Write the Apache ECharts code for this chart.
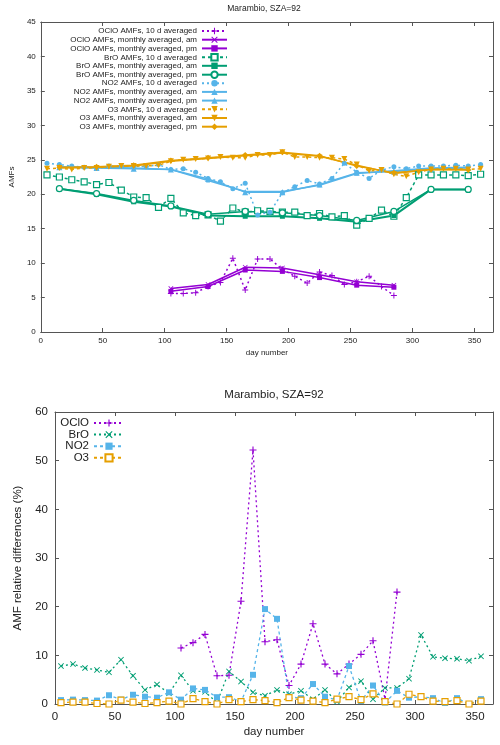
<!DOCTYPE html>
<html><head><meta charset="utf-8">
<script src="https://cdn.jsdelivr.net/npm/echarts@6/dist/echarts.min.js"></script>
<style>html,body{margin:0;padding:0;background:#fff}#c{width:500px;height:745px}</style>
</head><body><div id="c"></div>
<script>
// ---------- DATA ----------
const days10 = [5,15,25,35,45,55,65,75,85,95,105,115,125,135,145,155,165,175,185,195,205,215,225,235,245,255,265,275,285,295,305,315,325,335,345,355];
const daysMon = [15,45,75,105,135,165,195,225,255,285,315,345];
const daysOClO10 = [105,115,125,135,145,155,165,175,185,195,205,215,225,235,245,255,265,275,285];
const daysOClOMon = [105,135,165,195,225,255,285];

// top panel: AMFs
const oclo10 = [5.6,5.6,5.7,6.6,7.2,10.7,6.1,10.6,10.6,9.1,8.1,7.1,8.7,8.2,6.9,7.3,8.1,6.6,5.3];
const ocloAm = [6.3,6.9,9.4,9.3,8.3,7.3,6.8];
const ocloPm = [5.9,6.6,9.0,8.8,7.9,6.8,6.5];
const bro10 = [22.8,22.5,22.1,21.8,21.4,21.7,20.6,19.6,19.5,18.1,19.4,17.3,16.9,17.0,16.1,18.0,17.4,17.6,17.5,17.4,17.4,16.9,17.2,16.7,16.9,15.5,16.5,17.7,16.8,19.5,22.8,22.8,22.8,22.8,22.7,22.9];
const broAm = [20.8,20.0,18.9,18.2,16.9,16.8,16.8,16.5,16.0,16.9,20.7,20.7];
const broPm = [20.8,20.1,19.1,18.3,17.1,17.5,17.3,16.9,16.2,17.5,20.7,20.7];
const no210 = [24.5,24.3,24.1,23.9,23.8,24.1,24.1,24.1,24.0,24.3,23.6,23.7,23.2,22.3,21.8,20.8,21.6,17.0,17.4,20.2,21.1,22.0,21.5,22.3,24.5,23.2,22.3,23.5,24.0,23.7,24.1,24.1,24.1,24.2,24.1,24.3];
const no2Am = [23.9,23.8,23.7,23.6,22.2,20.3,20.3,21.4,23.1,23.3,23.7,23.8];
const no2Pm = [24.0,23.9,23.8,23.6,22.0,20.4,20.4,21.3,23.0,23.4,23.8,23.9];
const o310 = [23.7,23.8,23.6,23.8,23.8,24.0,24.1,24.1,24.1,24.2,24.8,25.0,25.1,25.2,25.4,25.3,25.3,25.7,25.7,26.1,25.4,25.4,25.3,25.3,25.1,24.3,23.4,23.5,22.9,22.6,23.2,23.6,23.7,23.7,23.6,23.7];
const o3Am = [23.8,23.9,24.1,24.8,25.2,25.6,26.0,25.5,24.2,23.0,23.6,23.6];
const o3Pm = [23.9,24.0,24.2,24.9,25.3,25.7,26.1,25.6,24.1,23.1,23.6,23.5];

// bottom panel: relative differences (%)
const relOClO = [null,null,null,null,null,null,null,null,null,null,11.5,12.6,14.3,5.8,5.9,21.1,52.2,12.8,13.2,3.8,8.2,16.5,8.2,6.2,8.2,10.2,13.0,1.0,23.0,null,null,null,null,null,null,null];
const relBrO = [7.8,8.2,7.4,7.0,6.5,9.1,5.8,2.9,4.0,2.2,5.9,2.7,2.5,0.3,6.7,4.6,2.4,1.7,2.9,2.0,2.7,1.0,2.9,0.5,3.4,4.7,1.0,3.3,3.3,5.2,14.2,9.7,9.4,9.3,8.9,9.8];
const relNO2 = [0.8,0.9,0.8,0.7,1.8,0.9,1.9,1.5,1.3,2.4,0.9,3.2,2.9,1.4,1.4,0.5,6.0,19.5,17.5,1.5,1.2,4.1,1.5,0.8,7.8,0.6,3.8,0.3,2.7,1.3,1.5,1.2,0.2,1.2,0.0,1.0];
const relO3 = [0.3,0.4,0.4,0.1,0.0,0.8,0.4,0.1,0.3,0.6,0.0,1.1,0.5,0.0,0.9,0.5,0.9,0.7,0.3,1.3,0.8,0.6,0.3,1.0,1.5,0.9,2.1,0.5,0.0,2.0,1.5,0.6,0.5,0.7,0.0,0.6];

const xTicks = [0,50,100,150,200,250,300,350];

// ---------- STYLE ----------
const FONT = 'Liberation Sans, Arial, sans-serif';
const C_OCLO = '#9400D3', C_BRO = '#009E73', C_NO2 = '#56B4E9', C_O3 = '#E69F00';
const PLUS = 'path://M4.2,0H5.8V4.2H10V5.8H5.8V10H4.2V5.8H0V4.2H4.2Z';
const CROSS = 'path://M1.1,0L5,3.9L8.9,0L10,1.1L6.1,5L10,8.9L8.9,10L5,6.1L1.1,10L0,8.9L3.9,5L0,1.1Z';
const pair = (xs, ys) => xs.map((x, i) => [x, ys[i]]);

function ser(name, xs, ys, grid, color, opt) {
  return {
    name, type: 'line', xAxisIndex: grid * 2, yAxisIndex: grid * 2,
    data: pair(xs, ys), connectNulls: false, animation: false,
    symbol: opt.symbol, symbolSize: opt.size, symbolRotate: opt.rotate || 0,
    lineStyle: { color, width: opt.width, type: opt.dash || 'solid' },
    itemStyle: opt.open ? { color: '#fff', borderColor: color, borderWidth: 1.2 } : { color, borderColor: color, borderWidth: 0 },
    emphasis: { disabled: true }, z: opt.z || 2
  };
}

const series = [
  ser('OClO AMFs, 10 d averaged', daysOClO10, oclo10, 0, C_OCLO, { symbol: PLUS, size: 6, width: 1.5, dash: [2, 3] }),
  ser('OClO AMFs, monthly averaged, am', daysOClOMon, ocloAm, 0, C_OCLO, { symbol: CROSS, size: 5, width: 1.5 }),
  ser('OClO AMFs, monthly averaged, pm', daysOClOMon, ocloPm, 0, C_OCLO, { symbol: 'rect', size: 5, width: 1.5 }),
  ser('BrO AMFs, 10 d averaged', days10, bro10, 0, C_BRO, { symbol: 'rect', size: 6, width: 1.5, dash: [3, 3], open: true }),
  ser('BrO AMFs, monthly averaged, am', daysMon, broAm, 0, C_BRO, { symbol: 'rect', size: 5, width: 2 }),
  ser('BrO AMFs, monthly averaged, pm', daysMon, broPm, 0, C_BRO, { symbol: 'circle', size: 6, width: 1.5, open: true }),
  ser('NO2 AMFs, 10 d averaged', days10, no210, 0, C_NO2, { symbol: 'circle', size: 5, width: 1.5, dash: [2, 3] }),
  ser('NO2 AMFs, monthly averaged, am', daysMon, no2Am, 0, C_NO2, { symbol: 'triangle', size: 6, width: 1.5 }),
  ser('NO2 AMFs, monthly averaged, pm', daysMon, no2Pm, 0, C_NO2, { symbol: 'triangle', size: 4, width: 1.5 }),
  ser('O3 AMFs, 10 d averaged', days10, o310, 0, C_O3, { symbol: 'triangle', rotate: 180, size: 6, width: 1.5, dash: [3, 3] }),
  ser('O3 AMFs, monthly averaged, am', daysMon, o3Am, 0, C_O3, { symbol: 'triangle', rotate: 180, size: 4, width: 1.5 }),
  ser('O3 AMFs, monthly averaged, pm', daysMon, o3Pm, 0, C_O3, { symbol: 'diamond', size: 6, width: 1.5 }),
  ser('OClO', days10, relOClO, 1, C_OCLO, { symbol: PLUS, size: 7, width: 1.3, dash: [2, 3] }),
  ser('BrO', days10, relBrO, 1, C_BRO, { symbol: CROSS, size: 6, width: 1.3, dash: [2, 3] }),
  ser('NO2', days10, relNO2, 1, C_NO2, { symbol: 'rect', size: 6, width: 1.3, dash: [3, 3] }),
  ser('O3', days10, relO3, 1, C_O3, { symbol: 'rect', size: 6, width: 1.3, dash: [3, 3], open: true })
];

const topNames = series.slice(0, 12).map(s => s.name);
const botNames = series.slice(12).map(s => s.name);
const legends = [];
topNames.forEach((n, i) => legends.push({
  data: [n], orient: 'vertical', align: 'right', right: 272, top: 31 + 8.7 * i - 4,
  itemWidth: 25, itemHeight: 8, padding: 0, selectedMode: false,
  textStyle: { fontSize: 8, fontFamily: FONT, color: '#222', lineHeight: 8 }
}));
botNames.forEach((n, i) => legends.push({
  data: [n], orient: 'vertical', align: 'right', right: 375, top: 422 + 11.6 * i - 5,
  itemWidth: 30, itemHeight: 9, padding: 0, selectedMode: false,
  textStyle: { fontSize: 11.5, fontFamily: FONT, color: '#222', lineHeight: 10 }
}));

const AX = '#555';
function xAx(grid, pos, fs, show, name, gap, margin) {
  return {
    type: 'value', gridIndex: grid, position: pos, min: 0, max: 365, interval: 50,
    name: show ? name : '', nameLocation: 'middle', nameGap: gap,
    nameTextStyle: { fontSize: fs, fontFamily: FONT, color: '#222' },
    axisLine: { show: true, onZero: false, lineStyle: { color: AX, width: 1 } },
    axisTick: { show: true, inside: true, length: 4, lineStyle: { color: AX } },
    axisLabel: { show: show, fontSize: fs, fontFamily: FONT, color: '#222', margin: margin,
      formatter: v => (xTicks.indexOf(v) >= 0 ? String(v) : '') },
    splitLine: { show: false }
  };
}
function yAx(grid, pos, fs, show, max, itv, name, gap, margin) {
  return {
    type: 'value', gridIndex: grid, position: pos, min: 0, max: max, interval: itv,
    name: show ? name : '', nameLocation: 'middle', nameGap: gap, nameRotate: 90,
    nameTextStyle: { fontSize: fs, fontFamily: FONT, color: '#222' },
    axisLine: { show: true, onZero: false, lineStyle: { color: AX, width: 1 } },
    axisTick: { show: true, inside: true, length: 4, lineStyle: { color: AX } },
    axisLabel: { show: show, fontSize: fs, fontFamily: FONT, color: '#222', margin: margin },
    splitLine: { show: false }
  };
}

const option = {
  animation: false,
  backgroundColor: '#fff',
  grid: [
    { left: 36, right: 7, top: 22, height: 310, containLabel: false },
    { left: 55, right: 7, top: 412, height: 292, containLabel: false }
  ],
  xAxis: [
    xAx(0, 'bottom', 8, true, 'day number', 17, 5),
    xAx(0, 'top', 8, false, '', 0, 0),
    xAx(1, 'bottom', 11.5, true, 'day number', 22, 7),
    xAx(1, 'top', 11.5, false, '', 0, 0)
  ],
  yAxis: [
    yAx(0, 'left', 8, true, 45, 5, 'AMFs', 23, 5),
    yAx(0, 'right', 8, false, 45, 5, '', 0, 0),
    yAx(1, 'left', 11.5, true, 60, 10, 'AMF relative differences (%)', 31, 7),
    yAx(1, 'right', 11.5, false, 60, 10, '', 0, 0)
  ],
  legend: legends,
  graphic: [
    { type: 'text', x: 264, y: 9, style: { text: 'Marambio, SZA=92', fontSize: 8.5, fontFamily: FONT, fill: '#222', align: 'center', verticalAlign: 'middle', textAlign: 'center', textVerticalAlign: 'middle' } },
    { type: 'text', x: 274, y: 395, style: { text: 'Marambio, SZA=92', fontSize: 11.5, fontFamily: FONT, fill: '#222', align: 'center', verticalAlign: 'middle', textAlign: 'center', textVerticalAlign: 'middle' } }
  ],
  series: series
};

const chart = echarts.init(document.getElementById('c'), null, { renderer: 'canvas' });
chart.setOption(option);
</script>
</body></html>
